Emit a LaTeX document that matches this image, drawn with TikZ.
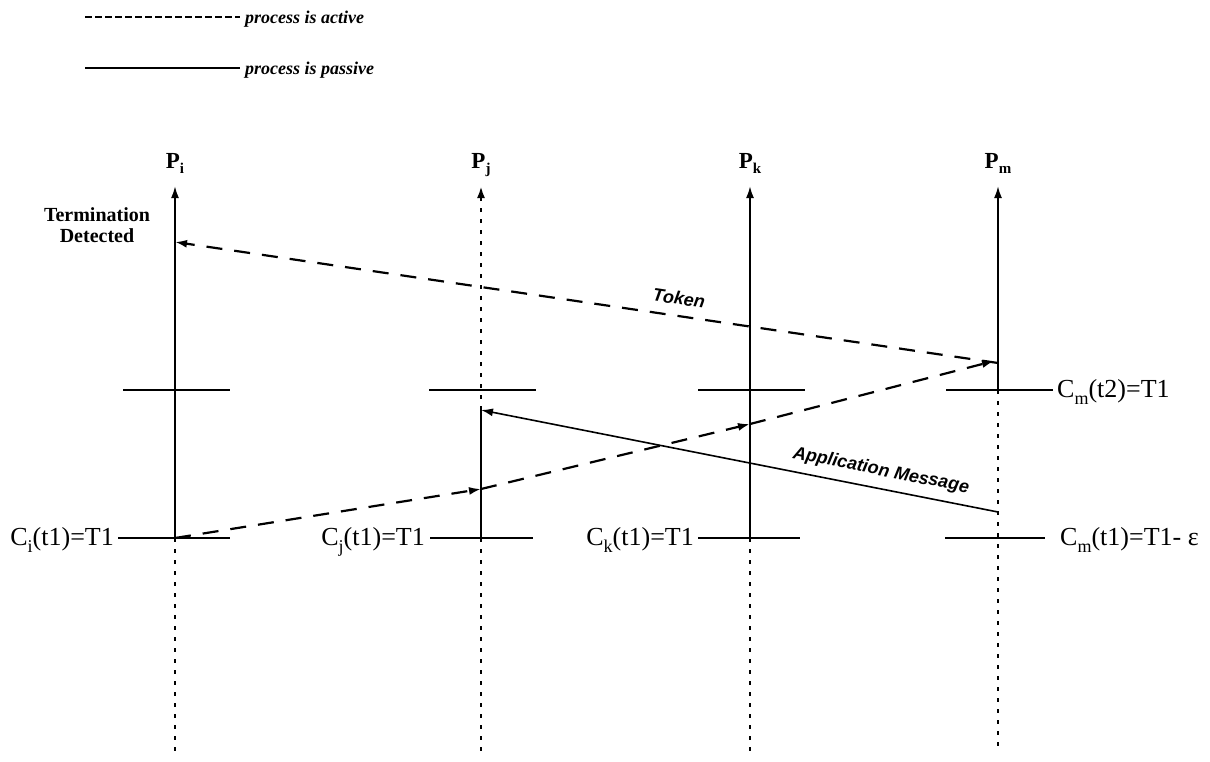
\documentclass[tikz,border=0pt]{standalone}
\usepackage{fontspec}
\setmainfont{Liberation Serif}
\newfontfamily\sansfam{Liberation Sans}
\usetikzlibrary{arrows.meta}
\newcommand\lsub[1]{\raisebox{-0.28em}{\fontsize{18}{18}\selectfont #1}}
\newcommand\psub[1]{\raisebox{-0.25em}{\fontsize{15}{15}\selectfont #1}}
\begin{document}
\begin{tikzpicture}[x=1pt,y=-1pt,
  proc/.style={line width=2pt},
  dotproc/.style={line width=2.4pt,dash pattern=on 4pt off 7pt},
  tickline/.style={line width=1.8pt},
  msg/.style={line width=2.2pt,dash pattern=on 16pt off 12pt},
  appmsg/.style={line width=1.6pt},
  tip/.style={-{Latex[length=12pt,width=8pt]}},
  clab/.style={font=\fontsize{26}{28}\selectfont,inner sep=0pt},
  plab/.style={font=\bfseries\fontsize{23}{24}\selectfont,inner sep=0pt},
  leg/.style={font=\bfseries\itshape\fontsize{18}{20}\selectfont,inner sep=0pt,anchor=base west},
  mlab/.style={font=\sansfam\bfseries\itshape\fontsize{18}{18}\selectfont,inner sep=0pt}]
\useasboundingbox (0,0) rectangle (1210,761);

% legend
\coordinate (la1) at (85,17);
\coordinate (la2) at (240,17);
\coordinate (lp1) at (85,68);
\coordinate (lp2) at (240,68);
\draw[line width=2pt,dash pattern=on 7pt off 3pt] (la1) -- (la2);
\draw[line width=2pt] (lp1) -- (lp2);
\node[leg] (lact) at (245,23) {process is active};
\node[leg] (lpas) at (245,74) {process is passive};

% process coordinates
\foreach \n/\x in {i/175,j/481,k/750,m/998}{
  \coordinate (\n top) at (\x,186);
  \coordinate (\n up) at (\x,390);
  \coordinate (\n low) at (\x,538);
  \coordinate (\n bot) at (\x,752);
}
\coordinate (jmsg) at (481,410);
\coordinate (mmsg) at (998,512);
\coordinate (mtok) at (998,363);
\coordinate (itok) at (175,242);
\coordinate (kmid) at (750,424);
\coordinate (jmid) at (481,489);

% process labels
\node[plab,anchor=base] (Pi) at (175,168) {P\psub{i}};
\node[plab,anchor=base] (Pj) at (481,168) {P\psub{j}};
\node[plab,anchor=base] (Pk) at (750,168) {P\psub{k}};
\node[plab,anchor=base] (Pm) at (998,168) {P\psub{m}};

% P_i
\draw[proc,tip] (ilow) -- (itop);
\draw[dotproc] (ilow) -- (ibot);
% P_j
\draw[dotproc,tip] (jmsg) -- (jtop);
\draw[proc] (jmsg) -- (jlow);
\draw[dotproc] (jlow) -- (jbot);
% P_k
\draw[proc,tip] (klow) -- (ktop);
\draw[dotproc] (klow) -- (kbot);
% P_m
\draw[proc,tip] (mup) -- (mtop);
\draw[dotproc] (mup) -- (mbot);

% upper ticks
\foreach \n in {i,j,k,m}{
  \draw[tickline] ([xshift=-52pt]\n up) -- ([xshift=55pt]\n up);
}
% lower ticks
\draw[tickline] ([xshift=-57pt]ilow) -- ([xshift=55pt]ilow);
\draw[tickline] ([xshift=-51pt]jlow) -- ([xshift=52pt]jlow);
\draw[tickline] ([xshift=-52pt]klow) -- ([xshift=50pt]klow);
\draw[tickline] ([xshift=-53pt]mlow) -- ([xshift=47pt]mlow);

% clock labels
\node[clab,anchor=base east] (Ci) at (114,545) {C\lsub{i}(t1)=T1};
\node[clab,anchor=base east] (Cj) at (425,545) {C\lsub{j}(t1)=T1};
\node[clab,anchor=base east] (Ck) at (694,545) {C\lsub{k}(t1)=T1};
\node[clab,anchor=base west] (Cm1) at (1060,545) {C\lsub{m}(t1)=T1- ε};
\node[clab,anchor=base west] (Cm2) at (1057,397) {C\lsub{m}(t2)=T1};

% termination detected
\node[font=\bfseries\fontsize{20}{21}\selectfont,align=center,inner sep=0pt,anchor=base] (td) at (97,242) {Termination\\Detected};

% token
\draw[msg,tip] (mtok) -- (itok);
\node[mlab,rotate=-8.4] (tok) at (679,298) {Token};

% rising dashed messages
\draw[msg,tip] (ilow) -- (jmid);
\draw[msg,tip] (jmid) -- (kmid);
\draw[msg,tip] (kmid) -- ([xshift=-4pt,yshift=2pt]mtok);

% application message
\draw[appmsg,tip] (mmsg) -- (jmsg);
\node[mlab,rotate=-11.2] (app) at (881,471) {Application Message};
\end{tikzpicture}
\end{document}
